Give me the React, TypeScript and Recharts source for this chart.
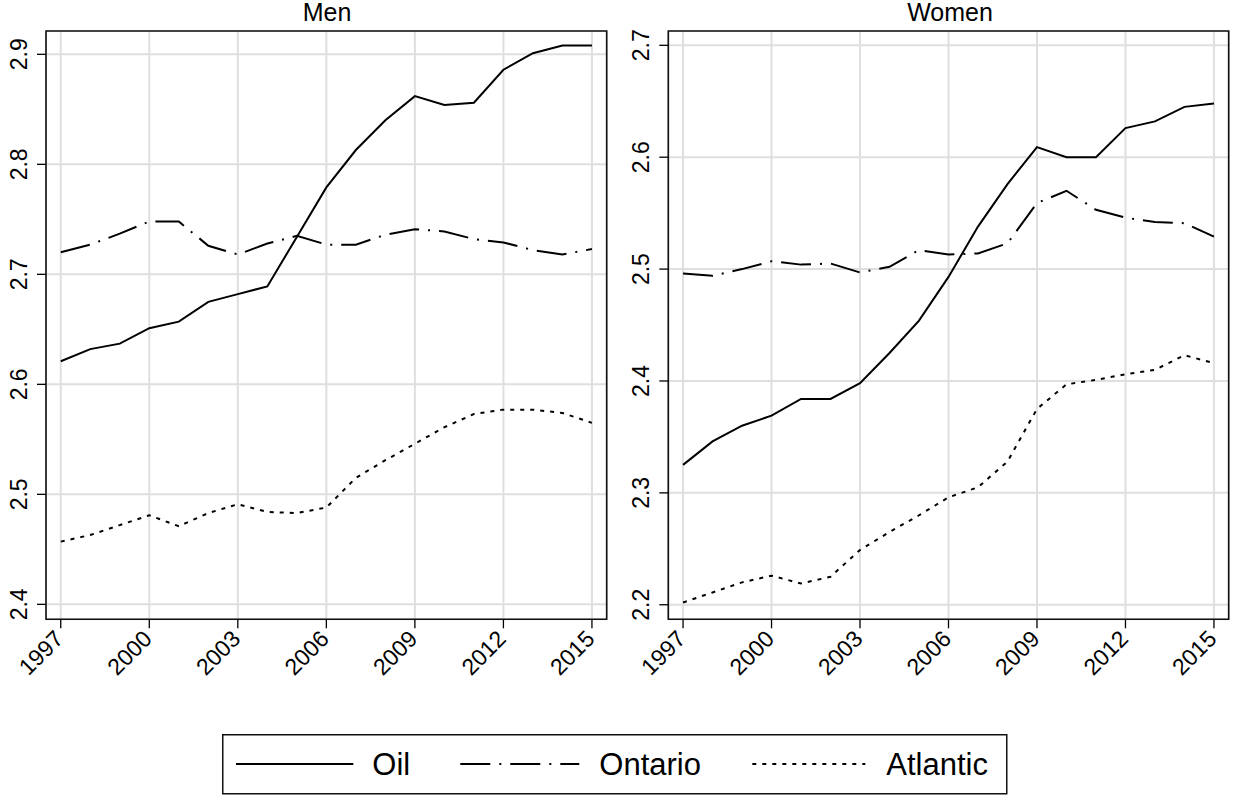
import React from 'react';
import {
  CartesianGrid,
  Line,
  LineChart,
  ReferenceArea,
  XAxis,
  YAxis,
} from 'recharts';

const FONT = '"Liberation Sans", Arial, Helvetica, sans-serif';

const years = [
  1997, 1998, 1999, 2000, 2001, 2002, 2003, 2004, 2005, 2006, 2007, 2008,
  2009, 2010, 2011, 2012, 2013, 2014, 2015,
];
const yearTicks = [1997, 2000, 2003, 2006, 2009, 2012, 2015];

const menOil = [
  2.621, 2.632, 2.637, 2.651, 2.657, 2.675, 2.682, 2.689, 2.734, 2.779, 2.813,
  2.84, 2.862, 2.854, 2.856, 2.886, 2.901, 2.908, 2.908,
];
const menOntario = [
  2.72, 2.727, 2.737, 2.748, 2.748, 2.726, 2.718, 2.728, 2.735, 2.727, 2.727,
  2.736, 2.741, 2.739, 2.732, 2.729, 2.722, 2.718, 2.723,
];
const menAtlantic = [
  2.457, 2.463, 2.472, 2.481, 2.471, 2.483, 2.491, 2.484, 2.483, 2.488, 2.515,
  2.531, 2.546, 2.561, 2.573, 2.577, 2.577, 2.574, 2.565,
];
const menTicks = [2.4, 2.5, 2.6, 2.7, 2.8, 2.9];

const womenOil = [
  2.325, 2.346, 2.36, 2.369, 2.384, 2.384, 2.398, 2.425, 2.454, 2.493, 2.538,
  2.576, 2.609, 2.6, 2.6, 2.626, 2.632, 2.645, 2.648,
];
const womenOntario = [
  2.496, 2.494, 2.5, 2.507, 2.504, 2.505, 2.497, 2.502, 2.517, 2.513, 2.514,
  2.523, 2.559, 2.57, 2.553, 2.546, 2.542, 2.541, 2.529,
];
const womenAtlantic = [
  2.202, 2.211, 2.22, 2.226, 2.219, 2.225, 2.249, 2.265, 2.28, 2.296, 2.305,
  2.328, 2.375, 2.397, 2.401, 2.406, 2.41, 2.423, 2.416,
];
const womenTicks = [2.2, 2.3, 2.4, 2.5, 2.6, 2.7];

const series = [
  { key: 'oil', name: 'Oil', dash: undefined as string | undefined },
  { key: 'ontario', name: 'Ontario', dash: '30 9 2 9' },
  { key: 'atlantic', name: 'Atlantic', dash: '4 6' },
];

const buildRows = (oil: number[], ontario: number[], atlantic: number[]) =>
  years.map((year, i) => ({
    year,
    oil: oil[i],
    ontario: ontario[i],
    atlantic: atlantic[i],
  }));

const menRows = buildRows(menOil, menOntario, menAtlantic);
const womenRows = buildRows(womenOil, womenOntario, womenAtlantic);

const XTick = (props: any) => {
  const { x, y, payload } = props;
  return (
    <g transform={`translate(${x + 4},${y + 10})`}>
      <text
        transform='rotate(-45)'
        textAnchor='end'
        fontSize={23}
        fontFamily={FONT}
        fill='#000'
      >
        {payload.value}
      </text>
    </g>
  );
};

const YTick = (props: any) => {
  const { x, y, payload } = props;
  return (
    <g transform={`translate(${x - 8.5},${y})`}>
      <text
        transform='rotate(-90)'
        textAnchor='middle'
        fontSize={23}
        fontFamily={FONT}
        fill='#000'
      >
        {Number(payload.value).toFixed(1)}
      </text>
    </g>
  );
};

interface PanelProps {
  data: ReturnType<typeof buildRows>;
  ticks: number[];
  yDomain: [number, number];
  left: number;
  width: number;
  axisWidth: number;
  rightMargin: number;
}

const Panel = (props: PanelProps): JSX.Element => {
  const xDomain: [number, number] = [1996.5, 2015.5];
  return (
    <div style={{ position: 'absolute', left: props.left, top: 0 }}>
      <LineChart
        width={props.width}
        height={700}
        data={props.data}
        margin={{ top: 31, right: props.rightMargin, left: 0, bottom: 0 }}
      >
        <CartesianGrid stroke='#dfdfdf' strokeWidth={2} />
        <XAxis
          dataKey='year'
          type='number'
          domain={xDomain}
          ticks={yearTicks}
          allowDataOverflow
          height={80.7}
          axisLine={false}
          tickSize={9}
          tickMargin={2}
          tickLine={{ stroke: '#000', strokeWidth: 1.3 }}
          tick={<XTick />}
          interval={0}
        />
        <YAxis
          type='number'
          domain={props.yDomain}
          ticks={props.ticks}
          allowDataOverflow
          width={props.axisWidth}
          axisLine={false}
          tickSize={9}
          tickMargin={2}
          tickLine={{ stroke: '#000', strokeWidth: 1.3 }}
          tick={<YTick />}
          interval={0}
        />
        {series.map((s) => (
          <Line
            key={s.key}
            type='linear'
            dataKey={s.key}
            name={s.name}
            stroke='#000'
            strokeWidth={2}
            strokeDasharray={s.dash}
            dot={false}
            activeDot={false}
            isAnimationActive={false}
          />
        ))}
        <ReferenceArea
          x1={xDomain[0]}
          x2={xDomain[1]}
          y1={props.yDomain[0]}
          y2={props.yDomain[1]}
          fill='none'
          stroke='#111'
          strokeWidth={1.6}
          ifOverflow='visible'
        />
      </LineChart>
    </div>
  );
};

const Title = ({ text, center }: { text: string; center: number }) => (
  <div
    style={{
      position: 'absolute',
      left: center - 100,
      top: 0,
      width: 200,
      textAlign: 'center',
      fontFamily: FONT,
      fontSize: 25,
      lineHeight: '25px',
      color: '#000',
    }}
  >
    {text}
  </div>
);

const LegendBox = () => {
  const items = [
    { lineFrom: 14, lineTo: 131.3, textX: 150.3 },
    { lineFrom: 238.3, lineTo: 357.3, textX: 377.3 },
    { lineFrom: 530.3, lineTo: 643.3, textX: 664.3 },
  ];
  return (
    <svg
      width={786}
      height={61}
      style={{ position: 'absolute', left: 222, top: 734 }}
    >
      <rect
        x={0.75}
        y={0.75}
        width={784}
        height={59}
        fill='#fff'
        stroke='#111'
        strokeWidth={1.5}
      />
      {series.map((s, i) => (
        <g key={s.key}>
          <line
            x1={items[i].lineFrom}
            x2={items[i].lineTo}
            y1={30}
            y2={30}
            stroke='#000'
            strokeWidth={2}
            strokeDasharray={s.dash}
          />
          <text
            x={items[i].textX}
            y={41}
            fontSize={31}
            fontFamily={FONT}
            fill='#000'
          >
            {s.name}
          </text>
        </g>
      ))}
    </svg>
  );
};

const App = (): JSX.Element => {
  return (
    <div
      style={{
        position: 'absolute',
        left: 0,
        top: 0,
        width: 1237,
        height: 800,
        background: '#fff',
      }}
    >
      <Panel
        data={menRows}
        ticks={menTicks}
        yDomain={[2.3864, 2.9212]}
        left={0}
        width={618}
        axisWidth={46}
        rightMargin={11.3}
      />
      <Panel
        data={womenRows}
        ticks={womenTicks}
        yDomain={[2.187, 2.7128]}
        left={618}
        width={619}
        axisWidth={50.3}
        rightMargin={8.3}
      />
      <Title text='Men' center={327} />
      <Title text='Women' center={950} />
      <LegendBox />
    </div>
  );
};

export default App;
